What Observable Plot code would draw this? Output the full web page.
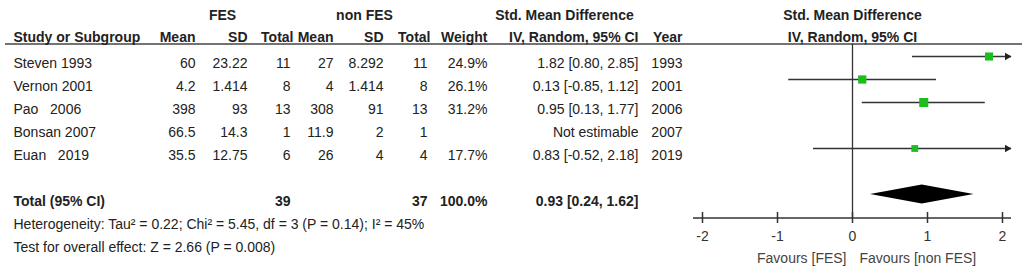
<!DOCTYPE html>
<html>
<head>
<meta charset="utf-8">
<script src="https://cdn.jsdelivr.net/npm/d3@7"></script>
<script src="https://cdn.jsdelivr.net/npm/@observablehq/plot@0.6"></script>
<style>
html, body { margin: 0; padding: 0; background: #fff; }
#chart svg { display: block; }
</style>
</head>
<body>
<div id="chart"></div>
<script>
// ---------- data ----------
const studies   = ["Steven 1993", "Vernon 2001", "Pao\u00a0\u00a0 2006", "Bonsan 2007", "Euan\u00a0\u00a0 2019"];
const fesMean   = [60, 4.2, 398, 66.5, 35.5];
const fesSD     = [23.22, 1.414, 93, 14.3, 12.75];
const fesTotal  = [11, 8, 13, 1, 6];
const nonMean   = [27, 4, 308, 11.9, 26];
const nonSD     = [8.292, 1.414, 91, 2, 4];
const nonTotal  = [11, 8, 13, 1, 4];
const weights   = [24.9, 26.1, 31.2, null, 17.7];
const smd       = [1.82, 0.13, 0.95, null, 0.83];
const ciLow     = [0.80, -0.85, 0.13, null, -0.52];
const ciHigh    = [2.85, 1.12, 1.77, null, 2.18];
const years     = [1993, 2001, 2006, 2007, 2019];

const totalLabel = "Total (95% CI)";
const totalFes = 39, totalNon = 37, totalWeight = 100.0;
const totalSmd = 0.93, totalLow = 0.24, totalHigh = 1.62;
const heterogeneity = "Heterogeneity: Tau\u00b2 = 0.22; Chi\u00b2 = 5.45, df = 3 (P = 0.14); I\u00b2 = 45%";
const overallTest = "Test for overall effect: Z = 2.66 (P = 0.008)";
const notEstimable = "Not estimable";

const xTicks = [-2, -1, 0, 1, 2];
const favoursLeft = "Favours [FES]";
const favoursRight = "Favours [non FES]";

const groupHeaders = ["FES", "non FES", "Std. Mean Difference"];
const colHeaders = ["Study or Subgroup", "Mean", "SD", "Total", "Mean", "SD", "Total", "Weight", "IV, Random, 95% CI", "Year"];
const forestHeaders = ["Std. Mean Difference", "IV, Random, 95% CI"];

// ---------- layout (rows, pixel columns) ----------
const xMin = -2.12, xMax = 2.12;
const rowTotal = 6, rowHet = 7, rowTest = 8;
const rowHdr1 = -2.07, rowHdr2 = -1.11, rowLine = -0.543;
const rowAxis = 7.02, tickHalf = 0.24, rowTickLbl = 7.54, rowFav = 8.48;
const colX = [13, 195, 247, 290, 333, 383, 427, 487, 638, 682];
const hdrX = [13, 195, 247, 293, 333, 383, 430, 487, 638, 682];
const groupX = [222, 364, 564];
const textDy = 7;
const ink = "#222", lineInk = "#333", green = "#1dbd1d";

const fmt2 = v => v.toFixed(2);
const rows = studies.map((s, i) => ({
  row: i, study: s,
  fesMean: fesMean[i], fesSD: fesSD[i], fesTotal: fesTotal[i],
  nonMean: nonMean[i], nonSD: nonSD[i], nonTotal: nonTotal[i],
  weight: weights[i], smd: smd[i], lo: ciLow[i], hi: ciHigh[i], year: years[i]
}));
const est = rows.filter(d => d.smd != null);

const colText = (data, text, x, opts = {}) => Plot.text(data, {
  frameAnchor: "left", dx: x, y: "row", dy: textDy, text,
  textAnchor: "end", fill: ink, fontSize: 14, ...opts
});

const headerRow2 = colHeaders.map((h, i) => ({row: rowHdr2, h, x: hdrX[i], anchor: i === 0 ? "start" : "end"}));

const diamond = [
  {x: totalLow, y1: rowTotal, y2: rowTotal},
  {x: totalSmd, y1: rowTotal - 0.41, y2: rowTotal + 0.41},
  {x: totalHigh, y1: rowTotal, y2: rowTotal}
];

const marks = [
  // header line
  Plot.ruleY([rowLine], {stroke: "#444", strokeWidth: 1.5, insetLeft: 5, insetRight: 4}),
  // group headers
  ...groupHeaders.map((h, i) => Plot.text([h], {frameAnchor: "left", dx: groupX[i], y: () => rowHdr1, dy: textDy, text: d => d, textAnchor: "middle", fontWeight: "bold", fill: ink, fontSize: 14})),
  // column headers
  ...headerRow2.map(d => Plot.text([d], {frameAnchor: "left", dx: d.x, y: "row", dy: textDy, text: "h", textAnchor: d.anchor, fontWeight: "bold", fill: ink, fontSize: 14})),
  // forest headers
  Plot.text([forestHeaders[0]], {x: () => 0, y: () => rowHdr1, dy: textDy, text: d => d, fontWeight: "bold", fill: ink, fontSize: 14}),
  Plot.text([forestHeaders[1]], {x: () => 0, y: () => rowHdr2, dy: textDy, text: d => d, fontWeight: "bold", fill: ink, fontSize: 14}),
  // study rows
  colText(rows, "study", colX[0], {textAnchor: "start"}),
  colText(rows, d => String(d.fesMean), colX[1]),
  colText(rows, d => String(d.fesSD), colX[2]),
  colText(rows, d => String(d.fesTotal), colX[3]),
  colText(rows, d => String(d.nonMean), colX[4]),
  colText(rows, d => String(d.nonSD), colX[5]),
  colText(rows, d => String(d.nonTotal), colX[6]),
  colText(rows, d => d.weight == null ? "" : d.weight.toFixed(1) + "%", colX[7]),
  colText(rows, d => d.smd == null ? notEstimable : `${fmt2(d.smd)} [${fmt2(d.lo)}, ${fmt2(d.hi)}]`, colX[8]),
  colText(rows, d => String(d.year), colX[9]),
  // total row
  colText([{row: rowTotal}], () => totalLabel, colX[0], {textAnchor: "start", fontWeight: "bold"}),
  colText([{row: rowTotal}], () => String(totalFes), colX[3], {fontWeight: "bold"}),
  colText([{row: rowTotal}], () => String(totalNon), colX[6], {fontWeight: "bold"}),
  colText([{row: rowTotal}], () => totalWeight.toFixed(1) + "%", colX[7], {fontWeight: "bold"}),
  colText([{row: rowTotal}], () => `${fmt2(totalSmd)} [${fmt2(totalLow)}, ${fmt2(totalHigh)}]`, colX[8], {fontWeight: "bold"}),
  colText([{row: rowHet}], () => heterogeneity, colX[0], {textAnchor: "start"}),
  colText([{row: rowTest}], () => overallTest, colX[0], {textAnchor: "start"}),
  // zero line
  Plot.ruleX([0], {y1: rowLine, y2: rowAxis, stroke: lineInk, strokeWidth: 1.3}),
  // axis
  Plot.ruleY([rowAxis], {x1: xMin, x2: xMax, stroke: lineInk, strokeWidth: 1.5}),
  Plot.ruleX(xTicks, {x: d => d, y1: () => rowAxis - tickHalf, y2: () => rowAxis + tickHalf, stroke: lineInk, strokeWidth: 1.5}),
  Plot.text(xTicks, {x: d => d, y: () => rowTickLbl, dy: textDy, text: d => String(d), fill: "#333", fontSize: 14}),
  Plot.text([favoursLeft], {x: () => 0, y: () => rowFav, dy: textDy, dx: -6, text: d => d, textAnchor: "end", fill: "#444", fontSize: 14}),
  Plot.text([favoursRight], {x: () => 0, y: () => rowFav, dy: textDy, dx: 7, text: d => d, textAnchor: "start", fill: "#444", fontSize: 14}),
  // confidence intervals
  Plot.ruleY(est, {y: "row", x1: d => Math.max(d.lo, xMin), x2: d => Math.min(d.hi, xMax), stroke: lineInk, strokeWidth: 1.5}),
  Plot.dot(est.filter(d => d.hi > xMax), {x: () => xMax, y: "row", dx: -4.3, symbol: "triangle", rotate: 90, r: 2.8, fill: "#222", stroke: null}),
  // squares
  Plot.dot(est, {x: "smd", y: "row", r: "weight", symbol: "square", fill: green, stroke: null}),
  // diamond
  Plot.areaY(diamond, {x: "x", y1: "y1", y2: "y2", fill: "#000"})
];

const chart = Plot.plot({
  width: 1026, height: 272,
  marginTop: 0, marginRight: 0, marginBottom: 0, marginLeft: 0,
  style: {fontFamily: "'Liberation Sans', Arial, sans-serif", fontSize: "14px", background: "#fff", overflow: "visible"},
  x: {domain: [xMin, xMax], range: [693, 1011], axis: null},
  y: {domain: [0, 8], range: [56, 240], axis: null},
  r: {type: "sqrt", domain: [0, 31.2], range: [0, 5.1]},
  marks
});
document.getElementById("chart").appendChild(chart);
</script>
</body>
</html>
